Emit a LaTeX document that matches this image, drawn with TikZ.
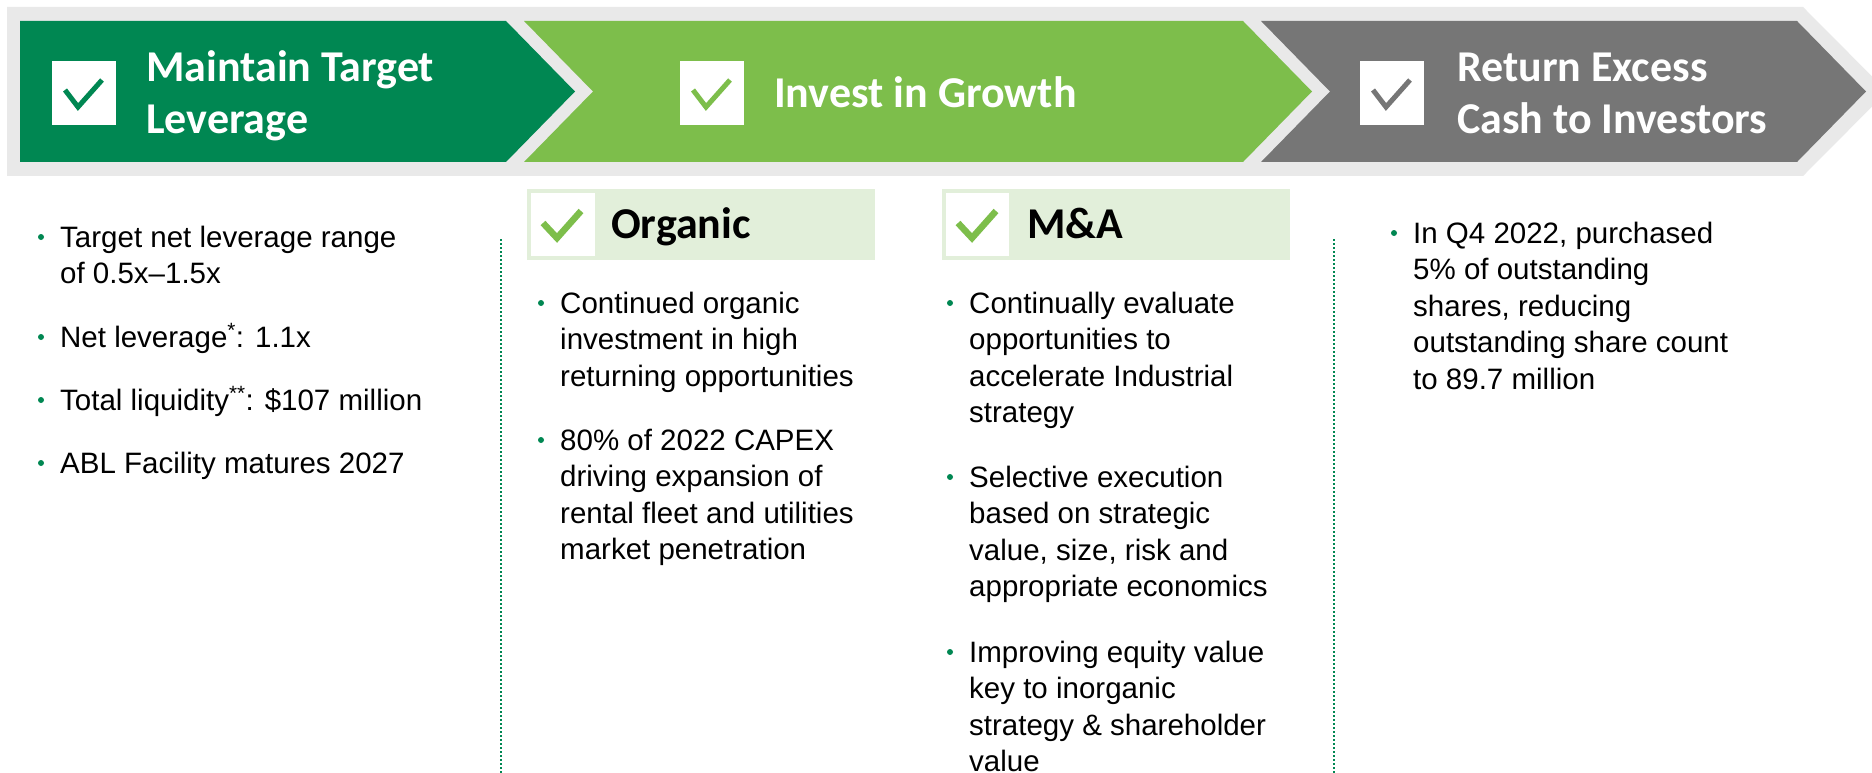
\documentclass[tikz,border=0pt]{standalone}
\usepackage{fontspec}
\setmainfont{Liberation Sans}
\newfontfamily\hdfont{Carlito}
\definecolor{dkgreen}{RGB}{0,135,82}
\definecolor{ltgreen}{RGB}{125,190,75}
\definecolor{dkgray}{RGB}{118,118,118}
\definecolor{band}{RGB}{233,233,233}
\definecolor{subfill}{RGB}{226,239,218}
\tikzset{
  hdtext/.style={font=\hdfont\bfseries\fontsize{44}{53}\selectfont, text=white, anchor=base west, inner sep=0},
  subtext/.style={font=\hdfont\bfseries\fontsize{44}{50}\selectfont, text=black, anchor=base west, inner sep=0},
  bodytext/.style={font=\fontsize{29.5}{36}\selectfont, text=black, anchor=base west, inner sep=0},
  bul/.style={fill=dkgreen},
  chk/.style={line width=5, line join=miter, line cap=butt},
  subchk/.style={line width=6.5, ltgreen, line join=miter, line cap=butt},
  divider/.style={dkgreen, line width=2, dash pattern=on 2 off 2},
}
\newcommand\bpara[4]{%
  \fill[bul] (#2-19,#3-10) circle (3);
  \foreach \ln [count=\k] in {#4} {
    \node[bodytext] (#1-\k) at (#2,{#3+(\k-1)*36.6}) {\ln};
  }
}
\begin{document}
\begin{tikzpicture}[x=1pt,y=-1pt]
\useasboundingbox (0,0) rectangle (1872,773);
\clip (0,0) rectangle (1872,773);
\fill[white] (0,0) rectangle (1872,773);
% header band
\fill[band] (7,7) -- (1803,7) -- (1887,91.5) -- (1803,176) -- (7,176) -- cycle;
\fill[dkgreen] (20,21) -- (506,21) -- (575,91.5) -- (506,162) -- (20,162) -- cycle;
\fill[ltgreen] (524,21) -- (1243,21) -- (1312,91.5) -- (1243,162) -- (524,162) -- (593,91.5) -- cycle;
\fill[dkgray] (1261,21) -- (1797,21) -- (1866,91.5) -- (1797,162) -- (1261,162) -- (1330,91.5) -- cycle;
% header check boxes
\fill[white] (52,61) rectangle (116,125);
\draw[chk,dkgreen] (65,90) -- (78,107) -- (102,80);
\fill[white] (680,61) rectangle (744,125);
\draw[chk,ltgreen] (693,90) -- (706,107) -- (730,80);
\fill[white] (1360,61) rectangle (1424,125);
\draw[chk,dkgray] (1373,90) -- (1386,107) -- (1410,80);
% header texts
\node[hdtext] (h1a) at (146,82) {Maintain Target};
\node[hdtext] (h1b) at (146,134) {Leverage};
\node[hdtext] (h2) at (774,108) {Invest in Growth};
\node[hdtext] (h3a) at (1457,82) {Return Excess};
\node[hdtext] (h3b) at (1457,134) {Cash to Investors};
% sub headers
\fill[subfill] (527,189) rectangle (875,260);
\fill[white] (531,193) rectangle (595,256);
\draw[subchk] (543,223) -- (557,238) -- (581,211);
\node[subtext] (org) at (611,238) {Organic};
\fill[subfill] (942,189) rectangle (1290,260);
\fill[white] (946,193) rectangle (1009,256);
\draw[subchk] (958,223) -- (972,238) -- (996,211);
\node[subtext] (ma) at (1027,238) {M\&A};
% dividers
\coordinate (d1t) at (501,239); \coordinate (d1b) at (501,773);
\coordinate (d2t) at (1334,239); \coordinate (d2b) at (1334,773);
\draw[divider] (d1t) -- (d1b);
\draw[divider] (d2t) -- (d2b);
% left column
\bpara{l1}{60}{247}{{Target net leverage range},{of 0.5x–1.5x}}
\bpara{l2}{60}{347}{{Net leverage\textsuperscript{*}: 1.1x}}
\bpara{l3}{60}{410}{{Total liquidity\textsuperscript{**}: \$107 million}}
\bpara{l4}{60}{473}{{ABL Facility matures 2027}}
% organic column
\bpara{o1}{560}{313}{{Continued organic},{investment in high},{returning opportunities}}
\bpara{o2}{560}{450}{{80\% of 2022 CAPEX},{driving expansion of},{rental fleet and utilities},{market penetration}}
% M&A column
\bpara{m1}{969}{313}{{Continually evaluate},{opportunities to},{accelerate Industrial},{strategy}}
\bpara{m2}{969}{487}{{Selective execution},{based on strategic},{value, size, risk and},{appropriate economics}}
\bpara{m3}{969}{662}{{Improving equity value},{key to inorganic},{strategy \& shareholder},{value}}
% right column
\bpara{r1}{1413}{243}{{In Q4 2022, purchased},{5\% of outstanding},{shares, reducing},{outstanding share count},{to 89.7 million}}
\end{tikzpicture}
\end{document}
